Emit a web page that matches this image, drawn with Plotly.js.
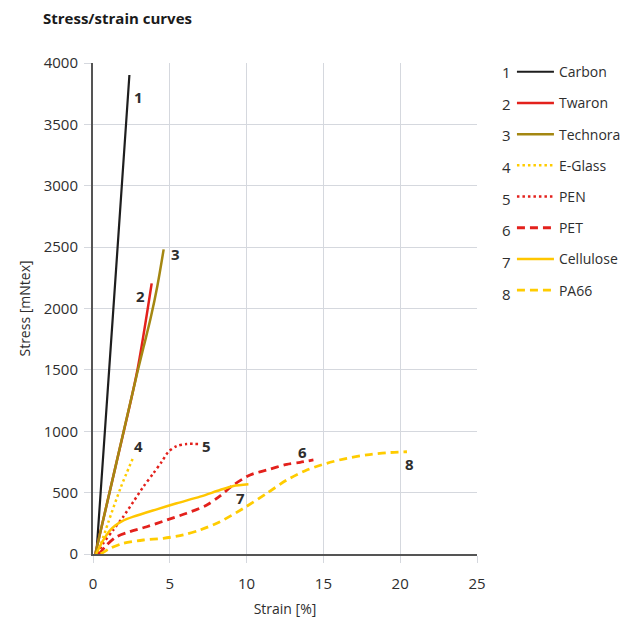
<!DOCTYPE html>
<html>
<head>
<meta charset="utf-8">
<script src="https://cdn.plot.ly/plotly-3.0.1.min.js"></script>
<style>html,body{margin:0;padding:0;background:#fff;}#chart{width:631px;height:623px;}</style>
</head>
<body>
<div id="chart"></div>
<script>
// ---- data (strain in %, stress in mNtex) ----
const names = ["Carbon", "Twaron", "Technora", "E-Glass", "PEN", "PET", "Cellulose", "PA66"];
const numbers = ["1", "2", "3", "4", "5", "6", "7", "8"];

const carbonX = [0.22, 1.3, 2.37];
const carbonY = [0, 1950, 3902];

const twaronX = [0.15, 1.5, 2.85, 3.82];
const twaronY = [0, 730, 1472, 2205];

const technoraX = [0.15, 1.5, 2.85, 3.3, 3.75, 4.2, 4.6];
const technoraY = [0, 730, 1460, 1690, 1920, 2190, 2482];

const eglassX = [0.3, 1.0, 1.8, 2.63];
const eglassY = [0, 260, 540, 790];

const penX = [0.3, 0.67, 1.32, 1.97, 2.63, 3.28, 3.93, 4.48, 4.91, 5.45, 6.1, 6.97];
const penY = [0, 87, 196, 304, 426, 548, 657, 752, 833, 880, 896, 896];

const petX = [0.4, 0.89, 1.54, 2.41, 3.5, 4.8, 6.1, 7.41, 8.27, 9.14, 10.23, 11.32, 12.62, 13.49, 14.35];
const petY = [0, 73, 141, 182, 222, 277, 332, 399, 473, 562, 644, 684, 731, 747, 766];

const celluloseX = [0.2, 0.5, 0.8, 1.11, 1.45, 1.9, 2.63, 4.15, 5.45, 6.97, 8.27, 9.14, 10.12];
const celluloseY = [0, 75, 140, 192, 232, 268, 304, 364, 413, 467, 521, 554, 568];

const pa66X = [0.5, 1.11, 1.97, 3.28, 4.58, 5.88, 6.97, 8.27, 9.79, 11.32, 12.62, 13.92, 15.22, 16.53, 17.83, 19.13, 20.44];
const pa66Y = [0, 46, 87, 114, 128, 155, 196, 263, 372, 495, 603, 684, 739, 780, 807, 825, 833];

// curve label positions
const labelX = [2.93, 3.06, 5.34, 2.95, 7.41, 13.66, 9.58, 20.6];
const labelY = [3723, 2102, 2444, 880, 880, 833, 454, 735];

const xTicks = [0, 5, 10, 15, 20, 25];
const yTicks = [0, 500, 1000, 1500, 2000, 2500, 3000, 3500, 4000];

// ---- styles ----
const colors = ["#1e1e1e", "#e3211c", "#a48712", "#ffcc00", "#e3211c", "#e3211c", "#ffc600", "#ffcc00"];
const dashes = ["solid", "solid", "solid", "2.5px,3px", "2.5px,3px", "8px,5px", "solid", "8px,5px"];
const widths = [2.2, 2.5, 2.5, 2.5, 2.5, 2.8, 2.5, 2.8];
const xs = [carbonX, twaronX, technoraX, eglassX, penX, petX, celluloseX, pa66X];
const ys = [carbonY, twaronY, technoraY, eglassY, penY, petY, celluloseY, pa66Y];

const traces = names.map((n, i) => ({
  type: "scatter",
  mode: "lines",
  name: n,
  x: xs[i],
  y: ys[i],
  legendgroup: "g" + i,
  line: {color: colors[i], width: widths[i], dash: dashes[i], shape: "spline", smoothing: 0.8},
  hoverinfo: "skip"
}));

const FONT = "'Open Sans', 'Noto Sans', sans-serif";
const TXT = "#2e2e2e";

const annotations = numbers.map((t, i) => ({
  x: labelX[i], y: labelY[i], xref: "x", yref: "y",
  text: "<b>" + t + "</b>", showarrow: false,
  font: {family: FONT, size: 15, color: TXT}
}));

// legend numbers
const PLOT_TOP = 63, PLOT_H = 491;
const legRowY = [72, 103.7, 135.4, 167.1, 198.8, 230.5, 262.2, 293.9];
numbers.forEach((t, i) => {
  annotations.push({
    x: 1.078, y: 1 - (legRowY[i] - PLOT_TOP) / PLOT_H, xref: "paper", yref: "paper",
    text: t, showarrow: false, xanchor: "center", yanchor: "middle",
    font: {family: FONT, size: 15, color: TXT}
  });
});

const layout = {
  width: 631, height: 623,
  margin: {l: 93, r: 154, t: PLOT_TOP, b: 623 - PLOT_TOP - PLOT_H, autoexpand: false},
  paper_bgcolor: "#ffffff", plot_bgcolor: "#ffffff",
  font: {family: FONT, size: 15, color: TXT},
  title: {
    text: "<b>Stress/strain curves</b>",
    x: 43 / 631, xanchor: "left", xref: "container",
    y: 1 - 19 / 623, yanchor: "middle", yref: "container",
    font: {family: FONT, size: 15, color: "#1a1a1a"}
  },
  xaxis: {
    range: [0, 25], tickvals: xTicks, ticktext: xTicks.map(String),
    showgrid: true, gridcolor: "#d5d8de", gridwidth: 1,
    showline: true, linecolor: "#555555", linewidth: 2,
    zeroline: false,
    ticks: "outside", ticklen: 7, tickcolor: "#d5d8de", tickwidth: 1,
    ticklabelstandoff: 8,
    tickfont: {family: FONT, size: 15, color: TXT},
    title: {text: "Strain [%]", font: {family: FONT, size: 14, color: TXT}, standoff: 12}
  },
  yaxis: {
    range: [0, 4000], tickvals: yTicks, ticktext: yTicks.map(String),
    showgrid: true, gridcolor: "#d5d8de", gridwidth: 1,
    showline: true, linecolor: "#555555", linewidth: 2,
    zeroline: false,
    ticks: "outside", ticklen: 7, tickcolor: "#d5d8de", tickwidth: 1,
    ticklabelstandoff: 3,
    tickfont: {family: FONT, size: 15, color: TXT},
    title: {text: "Stress [mNtex]", font: {family: FONT, size: 14, color: TXT}, standoff: 10}
  },
  showlegend: true,
  legend: {
    x: 1.091, y: 1.014, xanchor: "left", yanchor: "top",
    xref: "paper", yref: "paper",
    font: {family: FONT, size: 14, color: TXT},
    bgcolor: "rgba(0,0,0,0)", borderwidth: 0,
    tracegroupgap: 10, itemwidth: 37,
    traceorder: "grouped"
  },
  annotations: annotations
};

Plotly.newPlot("chart", traces, layout, {staticPlot: true, displayModeBar: false});
</script>
</body>
</html>
